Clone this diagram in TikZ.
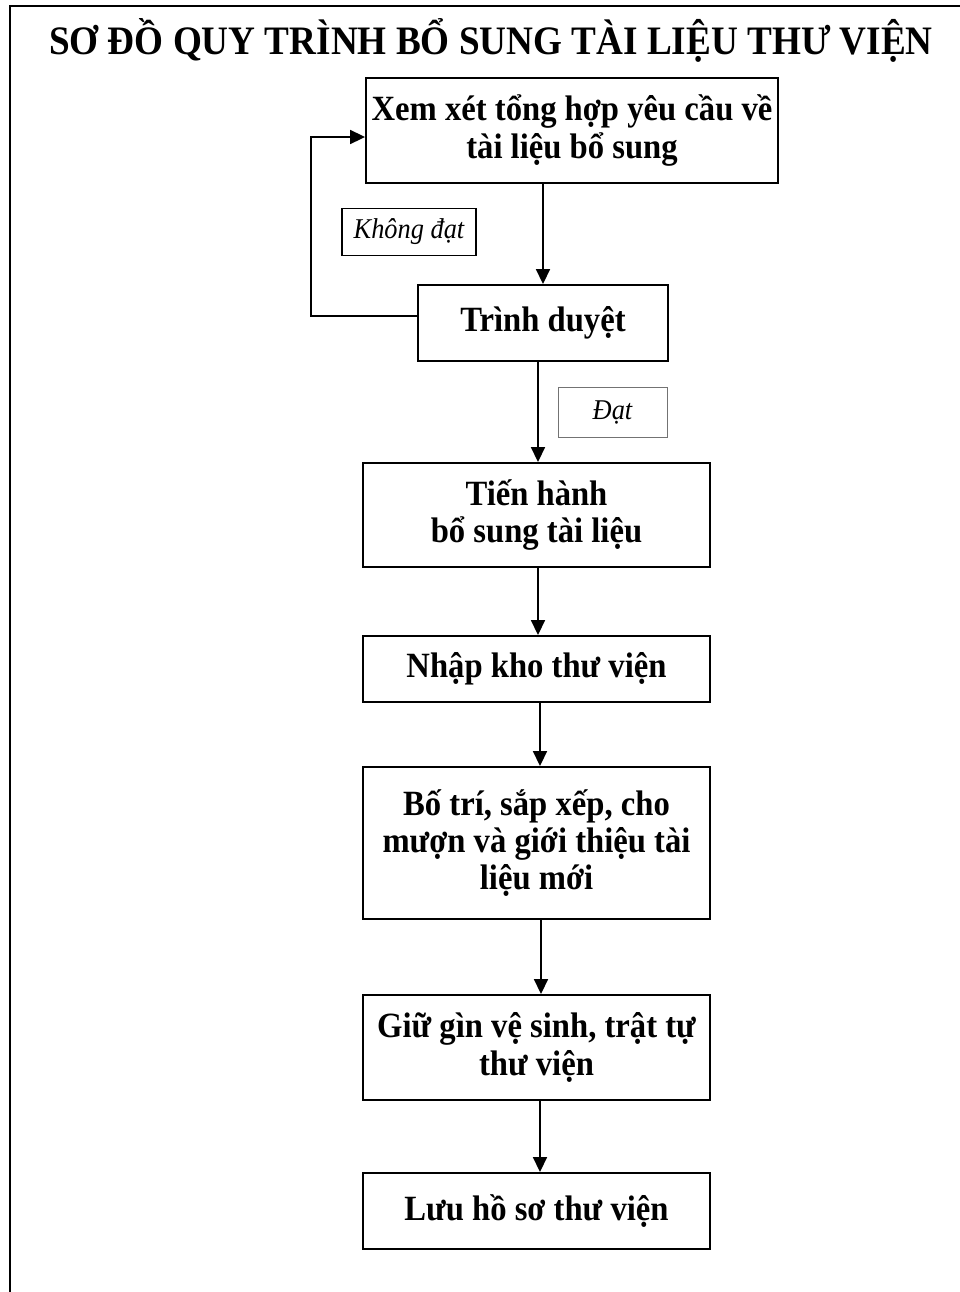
\documentclass[tikz,border=0pt]{standalone}
\usepackage{fontspec}
\setmainfont{Liberation Serif}[FakeStretch=0.92]
\usetikzlibrary{arrows.meta,positioning}

\begin{document}
\begin{tikzpicture}[
  x=0.02cm, y=-0.02cm,
  box/.style={draw, line width=1.1pt, align=center, font=\fontsize{20.2}{21.2}\selectfont\bfseries, inner sep=2pt},
  tag/.style={draw, align=center, font=\fontsize{16.3}{18}\selectfont\itshape, inner sep=2pt},
  arrow/.style={-{Triangle[length=0.3cm,width=0.28cm]}, line width=1pt}
]
\useasboundingbox (0,0) rectangle (960,1292);
% frame of the page
\draw[line width=0.8pt] (10,1292) -- (10,6) -- (960,6);
\node[font=\fontsize{23}{26}\selectfont\bfseries] (title) at (491,40) {SƠ ĐỒ QUY TRÌNH BỔ SUNG TÀI LIỆU THƯ VIỆN};

\node[box, minimum width=8.24cm, minimum height=2.1cm] (xem) at (572,130.5) {Xem xét tổng hợp yêu cầu về\\tài liệu bổ sung};
\node[box, minimum width=5cm, minimum height=1.52cm] (duyet) at (543,323) {Trình duyệt};
\node[tag, line width=0.7pt, minimum width=2.68cm, minimum height=0.94cm] (khongdat) at (409,232) {Không đạt};
\node[tag, draw=black!55, line width=0.5pt, minimum width=2.18cm, minimum height=1cm] (dat) at (612.5,412) {Đạt};
\node[box, minimum width=6.94cm, minimum height=2.08cm] (tienhanh) at (536.5,515) {Tiến hành\\bổ sung tài liệu};
\node[box, minimum width=6.94cm, minimum height=1.32cm] (nhapkho) at (536.5,669) {Nhập kho thư viện};
\node[box, minimum width=6.94cm, minimum height=3.04cm] (botri) at (536.5,843) {Bố trí, sắp xếp, cho\\mượn và giới thiệu tài\\liệu mới};
\node[box, minimum width=6.94cm, minimum height=2.1cm] (giugin) at (536.5,1047.5) {Giữ gìn vệ sinh, trật tự\\thư viện};
\node[box, minimum width=6.94cm, minimum height=1.52cm] (luu) at (536.5,1211) {Lưu hồ sơ thư viện};

\draw[arrow] (xem.south -| duyet) -- (duyet.north);
\draw[arrow] ([yshift=0.14cm]duyet.west) -- ++(-106,0) |- ([yshift=-0.13cm]xem.west);
\draw[arrow] ([xshift=-0.1cm]duyet.south) -- ([xshift=-0.1cm]duyet.south |- tienhanh.north);
\draw[arrow] ([xshift=0.03cm]tienhanh.south) -- ([xshift=0.03cm]nhapkho.north);
\draw[arrow] ([xshift=0.07cm]nhapkho.south) -- ([xshift=0.07cm]botri.north);
\draw[arrow] ([xshift=0.09cm]botri.south) -- ([xshift=0.09cm]giugin.north);
\draw[arrow] ([xshift=0.07cm]giugin.south) -- ([xshift=0.07cm]luu.north);
\end{tikzpicture}
\end{document}
